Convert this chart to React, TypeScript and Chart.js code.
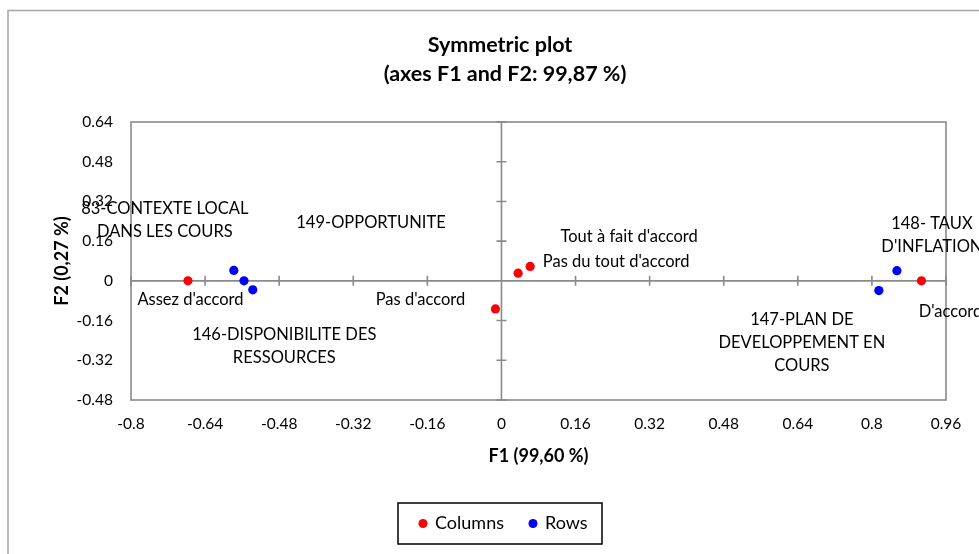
import { useEffect, useRef } from "react";
import { Chart, registerables } from "chart.js";

Chart.register(...registerables);

// ---- data ----
const titleLines = ["Symmetric plot", "(axes F1 and F2: 99,87 %)"];
const xAxisTitle = "F1 (99,60 %)";
const yAxisTitle = "F2 (0,27 %)";
const xTickLabels = ["-0.8", "-0.64", "-0.48", "-0.32", "-0.16", "0", "0.16", "0.32", "0.48", "0.64", "0.8", "0.96"];
const yTickLabels = ["-0.48", "-0.32", "-0.16", "0", "0.16", "0.32", "0.48", "0.64"];

const columnLabels = ["Assez d'accord", "Pas d'accord", "Tout à fait d'accord", "Pas du tout d'accord", "D'accord"];
const columnF1 = [-0.677, -0.013, 0.036, 0.062, 0.907];
const columnF2 = [0.0, -0.113, 0.031, 0.058, 0.0];

const rowLabels = [
  "83-CONTEXTE LOCAL\nDANS LES COURS",
  "149-OPPORTUNITE",
  "146-DISPONIBILITE DES\nRESSOURCES",
  "147-PLAN DE\nDEVELOPPEMENT EN\nCOURS",
  "148- TAUX\nD'INFLATION",
];
const rowF1 = [-0.578, -0.556, -0.537, 0.815, 0.854];
const rowF2 = [0.042, 0.0, -0.036, -0.039, 0.041];

// ---- layout (label placement offsets in px, centre of first line) ----
const columnLabelOffsets = [[2.5, 19], [-75, -9], [111, -36], [86, -5], [29, 31]];
const rowLabelOffsets = [[-69, -62], [127, -58], [31.5, 45], [-77, 29], [35, -47]];

const FONT = "Lato, 'Open Sans', sans-serif";

const decorPlugin = {
  id: "decor",
  beforeDatasetsDraw(chart: any) {
    const { ctx, chartArea: a, scales } = chart;
    const xs = scales.x;
    const ys = scales.y;
    ctx.save();
    ctx.strokeStyle = "#8a8a8a";
    ctx.lineWidth = 1.6;
    ctx.strokeRect(a.left, a.top, a.right - a.left, a.bottom - a.top);
    const x0 = xs.getPixelForValue(0);
    const y0 = ys.getPixelForValue(0);
    ctx.beginPath();
    ctx.moveTo(x0, a.top);
    ctx.lineTo(x0, a.bottom);
    ctx.moveTo(a.left, y0);
    ctx.lineTo(a.right, y0);
    xs.ticks.forEach((t: any) => {
      const px = xs.getPixelForValue(t.value);
      ctx.moveTo(px, y0 - 5);
      ctx.lineTo(px, y0 + 5);
    });
    ys.ticks.forEach((t: any) => {
      const py = ys.getPixelForValue(t.value);
      ctx.moveTo(x0 - 5, py);
      ctx.lineTo(x0 + 5, py);
    });
    ctx.stroke();
    ctx.restore();
  },
  afterDatasetsDraw(chart: any) {
    const { ctx } = chart;
    ctx.save();
    ctx.fillStyle = "#000";
    ctx.font = `16.5px ${FONT}`;
    ctx.textAlign = "center";
    ctx.textBaseline = "middle";
    const offsets = [columnLabelOffsets, rowLabelOffsets];
    chart.data.datasets.forEach((ds: any, di: number) => {
      const meta = chart.getDatasetMeta(di);
      meta.data.forEach((pt: any, i: number) => {
        const lines = String(ds.pointLabels[i]).split("\n");
        const [dx, dy] = offsets[di][i];
        lines.forEach((ln: string, k: number) => {
          ctx.fillText(ln, pt.x + dx, pt.y + dy + k * 23);
        });
      });
    });
    ctx.restore();
  },
  afterDraw(chart: any) {
    const { ctx, chartArea: a } = chart;
    ctx.save();
    // outer chart frame
    ctx.strokeStyle = "#a6a6a6";
    ctx.lineWidth = 1.5;
    ctx.strokeRect(8, 10.5, 2000, 2000);
    // title
    ctx.fillStyle = "#000";
    ctx.textAlign = "center";
    ctx.textBaseline = "middle";
    ctx.font = `bold 21.5px ${FONT}`;
    ctx.fillText(titleLines[0], 500, 45);
    ctx.fillText(titleLines[1], 505, 74);
    // axis titles
    ctx.font = `bold 18px ${FONT}`;
    ctx.fillText(xAxisTitle, (a.left + a.right) / 2, 456);
    ctx.save();
    ctx.translate(62, (a.top + a.bottom) / 2);
    ctx.rotate(-Math.PI / 2);
    ctx.fillText(yAxisTitle, 0, 0);
    ctx.restore();
    // legend
    ctx.strokeStyle = "#000";
    ctx.lineWidth = 1.5;
    ctx.strokeRect(398, 503, 204, 41);
    ctx.font = `18px ${FONT}`;
    ctx.textAlign = "left";
    const items = [
      { x: 423, ds: chart.data.datasets[0] },
      { x: 533, ds: chart.data.datasets[1] },
    ];
    items.forEach((it) => {
      ctx.fillStyle = it.ds.backgroundColor;
      ctx.beginPath();
      ctx.arc(it.x, 523.5, 4.5, 0, Math.PI * 2);
      ctx.fill();
      ctx.fillStyle = "#000";
      ctx.fillText(it.ds.label, it.x + 12, 523.5);
    });
    ctx.restore();
  },
};

export default function App() {
  const ref = useRef<HTMLCanvasElement | null>(null);

  useEffect(() => {
    if (!ref.current) return;
    const chart = new Chart(ref.current, {
      type: "scatter",
      data: {
        datasets: [
          {
            label: "Columns",
            data: columnF1.map((x, i) => ({ x, y: columnF2[i] })),
            pointLabels: columnLabels,
            backgroundColor: "#ff0000",
            borderColor: "#ff0000",
            pointRadius: 4.6,
            pointBorderWidth: 0,
          } as any,
          {
            label: "Rows",
            data: rowF1.map((x, i) => ({ x, y: rowF2[i] })),
            pointLabels: rowLabels,
            backgroundColor: "#0000ff",
            borderColor: "#0000ff",
            pointRadius: 4.6,
            pointBorderWidth: 0,
          } as any,
        ],
      },
      options: {
        animation: false,
        responsive: false,
        devicePixelRatio: 1,
        layout: { padding: { left: 71, top: 122, right: 33, bottom: 114 } },
        plugins: {
          legend: { display: false },
          title: { display: false },
          tooltip: { enabled: false },
        },
        scales: {
          x: {
            type: "linear",
            min: -0.8,
            max: 0.96,
            grid: { display: false, drawTicks: false },
            border: { display: false },
            afterFit: (s: any) => {
              s.height = 40;
            },
            ticks: {
              stepSize: 0.16,
              autoSkip: false,
              maxRotation: 0,
              padding: 15,
              color: "#000",
              font: { family: FONT, size: 15.5 },
              callback: (_v: any, i: number) => xTickLabels[i],
            },
          },
          y: {
            type: "linear",
            min: -0.48,
            max: 0.64,
            grid: { display: false, drawTicks: false },
            border: { display: false },
            afterFit: (s: any) => {
              s.width = 60;
            },
            ticks: {
              stepSize: 0.16,
              autoSkip: false,
              padding: 18,
              color: "#000",
              font: { family: FONT, size: 15.5 },
              callback: (_v: any, i: number) => yTickLabels[i],
            },
          },
        },
      } as any,
      plugins: [decorPlugin],
    });
    return () => chart.destroy();
  }, []);

  return (
    <div style={{ position: "fixed", left: 0, top: 0, width: 979, height: 554, background: "#fff", overflow: "hidden" }}>
      <canvas ref={ref} width={979} height={554} style={{ display: "block", width: 979, height: 554 }} />
    </div>
  );
}
